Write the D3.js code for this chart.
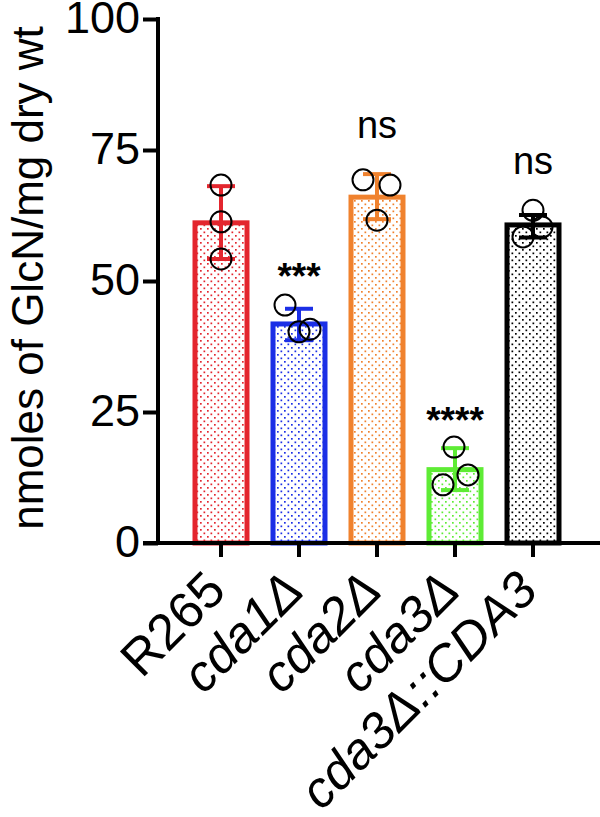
<!DOCTYPE html>
<html><head><meta charset="utf-8">
<script src="https://cdn.jsdelivr.net/npm/d3@7"></script>
<style>body{margin:0;background:#fff}svg{display:block}</style>
</head><body>
<svg id="c" width="600" height="817"></svg>
<script>
const categories = ["R265", "cda1Δ", "cda2Δ", "cda3Δ", "cda3Δ::CDA3"];
const italicCat = [false, true, true, true, true];
const means = [61.1, 41.8, 66.0, 14.0, 60.7];
const errLow = [54.2, 38.7, 61.8, 10.1, 58.3];
const errHigh = [68.1, 44.7, 70.4, 18.1, 62.6];
const points = [
  [68.3, 61.3, 54.2],
  [45.4, 40.3, 40.8],
  [69.3, 68.3, 61.6],
  [18.3, 11.1, 13.0],
  [63.5, 58.4, 60.3]
];
const pointOffsets = [[0,0,0],[-14,0,11],[-14,13,0],[-1,-12,13],[0,-10,9]];
const colors = ["#e3262e", "#1b2fe6", "#f0822e", "#5eec35", "#000000"];
const annotations = ["", "***", "ns", "****", "ns"];
const annotationLevels = [null, 48.5, 77.3, 21.0, 70.4];
const yTicks = [0, 25, 50, 75, 100];
const yLabel = "nmoles of GlcN/mg dry wt";

(function () {
const svg = d3.select("#c");
const mLeft = 158, mBottom = 543, mTop = 19, xStart = 182, xEnd = 572;
const y = d3.scaleLinear().domain([0, 100]).range([mBottom, mTop]);
const x = d3.scaleBand().domain(categories).range([xStart, xEnd]).paddingInner(0.28).paddingOuter(0.14);

const defs = svg.append("defs");
colors.forEach((c, i) => {
  const p = defs.append("pattern").attr("id", "dots" + i).attr("patternUnits", "userSpaceOnUse")
    .attr("width", 7).attr("height", 7);
  p.append("rect").attr("width", 7).attr("height", 7).attr("fill", "#fff");
  p.append("rect").attr("x", 0.5).attr("y", 0.5).attr("width", 1.7).attr("height", 1.7).attr("fill", c);
  p.append("rect").attr("x", 4).attr("y", 4).attr("width", 1.7).attr("height", 1.7).attr("fill", c);
});

const font = "'Liberation Sans', Arial, sans-serif";
const bw = 52;
categories.forEach((cat, i) => {
  const cx = x(cat) + x.bandwidth() / 2;
  svg.append("rect").attr("x", cx - bw / 2).attr("y", y(means[i]))
    .attr("width", bw).attr("height", mBottom - y(means[i]))
    .attr("fill", `url(#dots${i})`).attr("stroke", colors[i]).attr("stroke-width", 5);
});
categories.forEach((cat, i) => {
  const cx = x(cat) + x.bandwidth() / 2;
  const g = svg.append("g").attr("stroke", colors[i]).attr("stroke-width", 4);
  g.append("line").attr("x1", cx).attr("x2", cx).attr("y1", y(errLow[i])).attr("y2", y(errHigh[i]));
  [errLow[i], errHigh[i]].forEach(v => g.append("line").attr("x1", cx - 14).attr("x2", cx + 14).attr("y1", y(v)).attr("y2", y(v)));
});
categories.forEach((cat, i) => {
  const cx = x(cat) + x.bandwidth() / 2;
  points[i].forEach((v, j) => {
    svg.append("circle").attr("cx", cx + pointOffsets[i][j]).attr("cy", y(v)).attr("r", 10.5)
      .attr("fill", "none").attr("stroke", "#000").attr("stroke-width", 2);
  });
});
categories.forEach((cat, i) => {
  if (!annotations[i]) return;
  const cx = x(cat) + x.bandwidth() / 2;
  const isStar = annotations[i].includes("*");
  svg.append("text").attr("x", cx).attr("y", y(annotationLevels[i]))
    .attr("text-anchor", "middle").attr("font-family", font)
    .attr("font-size", isStar ? 37 : 38).attr("font-weight", isStar ? "bold" : "normal")
    .text(annotations[i]);
});

const yAxis = svg.append("g").attr("transform", `translate(${mLeft},0)`)
  .call(d3.axisLeft(y).tickValues(yTicks).tickSize(15).tickPadding(3));
yAxis.select(".domain").attr("d", `M0,${mTop - 2}V${mBottom}`).attr("stroke-width", 4);
yAxis.selectAll(".tick line").attr("stroke-width", 4);
yAxis.selectAll(".tick text").attr("font-family", font).attr("font-size", 45).attr("fill", "#000")
  .attr("dy", "0.3em");

const xAxis = svg.append("g").attr("transform", `translate(0,${mBottom})`)
  .call(d3.axisBottom(x).tickSize(14).tickFormat(""));
xAxis.select(".domain").attr("d", `M${mLeft - 15},0H600`).attr("stroke-width", 4);
xAxis.selectAll(".tick line").attr("stroke-width", 4);

categories.forEach((cat, i) => {
  const cx = x(cat) + x.bandwidth() / 2;
  svg.append("text").attr("transform", `translate(${cx + 7},${mBottom + 50}) rotate(-45)`)
    .attr("text-anchor", "end").attr("font-family", font).attr("font-size", 51)
    .attr("font-style", italicCat[i] ? "italic" : "normal")
    .text(cat);
});

svg.append("text").attr("transform", `translate(43,278) rotate(-90)`)
  .attr("text-anchor", "middle").attr("font-family", font).attr("font-size", 44)
  .text(yLabel);
})();
</script>
</body></html>
